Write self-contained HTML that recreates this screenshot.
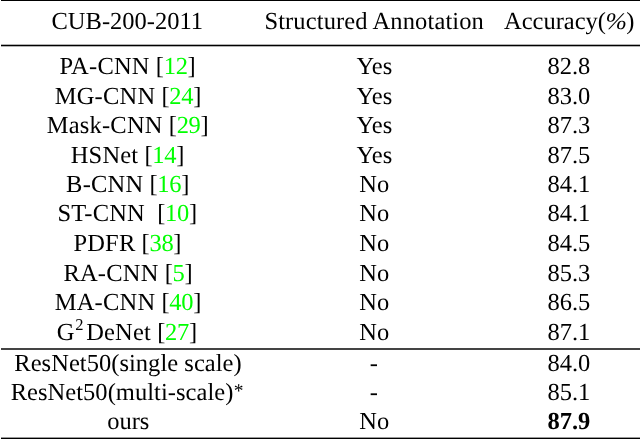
<!DOCTYPE html>
<html><head><meta charset="utf-8">
<style>
html,body{margin:0;padding:0;background:#fff;}
body{width:640px;height:439px;overflow:hidden;}
svg{display:block;will-change:transform;font-family:"Liberation Serif",serif;font-size:24.5px;text-rendering:geometricPrecision;}
text{text-anchor:middle;fill:#000;white-space:pre;}
</style></head><body>
<svg width="640" height="439" viewBox="0 0 640 439">

<rect x="1" y="0" width="639" height="1" fill="#000"/>
<rect x="1" y="44.7" width="639" height="1.6" fill="#000"/>
<rect x="1" y="348" width="639" height="2" fill="#444"/>
<rect x="1" y="437.6" width="639" height="1.4" fill="#000"/>
<text x="127.3" y="29">CUB-200-2011</text>
<text x="374.2" y="29" letter-spacing="0.12">Structured Annotation</text>
<text x="504.0" y="29" style="text-anchor:start">Accuracy(</text>
<text transform="translate(605.6 29) scale(1.05 0.97)" style="text-anchor:start;font-style:italic">%</text>
<text x="626.3" y="29" style="text-anchor:start">)</text>
<text x="127.5" y="74"><tspan letter-spacing="0.2">PA-CNN</tspan> <tspan letter-spacing="-0.3">[<tspan fill="#00ff00">12</tspan>]</tspan></text>
<text x="374.4" y="74">Yes</text>
<text x="568.9" y="74">82.8</text>
<text x="127.9" y="104"><tspan letter-spacing="0.2">MG-CNN</tspan> <tspan letter-spacing="-0.3">[<tspan fill="#00ff00">24</tspan>]</tspan></text>
<text x="374.4" y="104">Yes</text>
<text x="568.9" y="104">83.0</text>
<text x="127.6" y="133"><tspan letter-spacing="0.2">Mask-CNN</tspan> <tspan letter-spacing="-0.3">[<tspan fill="#00ff00">29</tspan>]</tspan></text>
<text x="374.4" y="133">Yes</text>
<text x="568.9" y="133">87.3</text>
<text x="127.4" y="163"><tspan letter-spacing="0.2">HSNet</tspan> <tspan letter-spacing="-0.3">[<tspan fill="#00ff00">14</tspan>]</tspan></text>
<text x="374.4" y="163">Yes</text>
<text x="568.9" y="163">87.5</text>
<text x="127.6" y="192"><tspan letter-spacing="0.2">B-CNN</tspan> <tspan letter-spacing="-0.3">[<tspan fill="#00ff00">16</tspan>]</tspan></text>
<text x="374.3" y="192">No</text>
<text x="568.9" y="192">84.1</text>
<text x="127.2" y="221"><tspan letter-spacing="0.2">ST-CNN</tspan>&#160;&#160;<tspan letter-spacing="-0.3">[<tspan fill="#00ff00">10</tspan>]</tspan></text>
<text x="374.3" y="221">No</text>
<text x="568.9" y="221">84.1</text>
<text x="127.3" y="251"><tspan letter-spacing="0.2">PDFR</tspan> <tspan letter-spacing="-0.3">[<tspan fill="#00ff00">38</tspan>]</tspan></text>
<text x="374.3" y="251">No</text>
<text x="568.9" y="251">84.5</text>
<text x="127.9" y="281"><tspan letter-spacing="0.2">RA-CNN</tspan> <tspan letter-spacing="-0.3">[<tspan fill="#00ff00">5</tspan>]</tspan></text>
<text x="374.3" y="281">No</text>
<text x="568.9" y="281">85.3</text>
<text x="127.9" y="310"><tspan letter-spacing="0.2">MA-CNN</tspan> <tspan letter-spacing="-0.3">[<tspan fill="#00ff00">40</tspan>]</tspan></text>
<text x="374.3" y="310">No</text>
<text x="568.9" y="310">86.5</text>
<text x="126.8" y="340">G<tspan dy="-9.8" dx="0.8" font-size="16.5">2</tspan><tspan dy="9.8" dx="2.6" letter-spacing="0.2">DeNet</tspan> <tspan letter-spacing="-0.3">[<tspan fill="#00ff00">27</tspan>]</tspan></text>
<text x="374.3" y="340">No</text>
<text x="568.9" y="340">87.1</text>
<text x="128.0" y="371" letter-spacing="0.035">ResNet50(single scale)</text>
<text x="373.8" y="371">-</text>
<text x="568.9" y="371">84.0</text>
<text x="127.1" y="400" letter-spacing="0.04">ResNet50(multi-scale)<tspan dy="-3.3" dx="0.3" font-size="19.5">*</tspan></text>
<text x="373.8" y="400">-</text>
<text x="568.9" y="400">85.1</text>
<text x="128.3" y="429">ours</text>
<text x="374.3" y="429">No</text>
<text x="568.9" y="429"><tspan font-weight="bold">87.9</tspan></text>
</svg>
</body></html>
